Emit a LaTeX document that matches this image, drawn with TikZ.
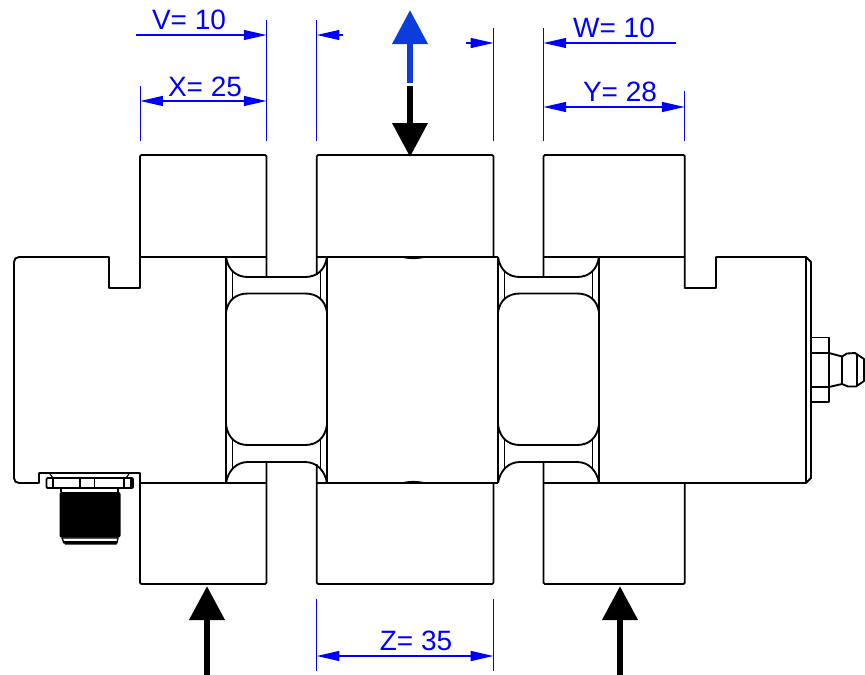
\documentclass[tikz,border=0pt]{standalone}
\usepackage{fontspec}
\setmainfont{Liberation Sans}
\usetikzlibrary{arrows.meta}
\definecolor{dimblue}{RGB}{0,0,255}
\definecolor{loadblue}{RGB}{12,60,220}
\tikzset{
  part/.style={draw=black,line width=1.4pt,line join=round},
  partthin/.style={draw=black,line width=0.85pt},
  extline/.style={draw=dimblue,line width=0.85pt},
  dimline/.style={draw=dimblue,line width=1pt},
  dimtip/.style={-{Triangle[length=17pt,width=7.5pt,fill=dimblue]}},
  dimtips/.style={{Triangle[length=17pt,width=7.5pt,fill=dimblue]}-{Triangle[length=17pt,width=7.5pt,fill=dimblue]}},
  dimtext/.style={text=dimblue,font=\fontsize{21pt}{21pt}\selectfont,inner sep=0pt,anchor=base},
  load/.style={line width=5.2pt,-{Triangle[length=25.5pt,width=25.5pt]}},
}
\begin{document}
\begin{tikzpicture}[x=0.75pt,y=-0.75pt]
\useasboundingbox (0,0) rectangle (865,675);
% top and bottom blocks
\draw[part,rounded corners=1pt] (140,257) -- (140,155) -- (266.5,155) -- (266.5,277);
\draw[part,rounded corners=1pt] (316.8,275) -- (316.8,155) -- (493.5,155) -- (493.5,257);
\draw[part,rounded corners=1pt] (543.5,277) -- (543.5,155) -- (684.8,155) -- (684.8,257);
\draw[part,rounded corners=1pt] (140,483) -- (140,584) -- (266.5,584) -- (266.5,462);
\draw[part,rounded corners=1pt] (316.8,464) -- (316.8,584) -- (493.5,584) -- (493.5,483);
\draw[part,rounded corners=1pt] (543.5,462) -- (543.5,584) -- (684.8,584) -- (684.8,483);
% left body outline
\draw[part] (266.5,257) -- (140,257) -- (140,288) -- (109,288) -- (109,257) -- (19,257)
  .. controls (16,257) and (14,259) .. (14,262) -- (14,478)
  .. controls (14,481) and (16,483) .. (19,483) -- (39,483) -- (39,473) -- (140,473) -- (140,483) -- (266.5,483);
% right body outline
\draw[part] (543.5,257) -- (684.8,257) -- (684.8,288) -- (716,288) -- (716,257) -- (806,257)
  -- (811,262) -- (811,478) -- (806,483) -- (543.5,483);
\draw[part] (806,257) -- (806,483);
% middle body
\draw[part] (316.8,257) -- (498,257);
\draw[part] (316.8,483) -- (498,483);
\draw[partthin] (402,257) .. controls (408,259) and (418,259) .. (425,257);
\draw[partthin] (402,483) .. controls (408,481) and (418,481) .. (425,483);
\draw[part] (226,257) -- (226,483);
\draw[part] (327,257) -- (327,483);
\draw[part] (498,257) -- (498,483);
\draw[part] (599,257) -- (599,483);
% flexures
\foreach \l/\r in {226/327,498/599}{
  \draw[part] (\l,257) .. controls (\l+2,270) and (\l+10,277) .. (\l+22,277) -- (\r-22,277) .. controls (\r-10,277) and (\r-2,270) .. (\r,257);
  \draw[part] (\l,312) .. controls (\l+2,300) and (\l+10,293.5) .. (\l+22,293.5) -- (\r-22,293.5) .. controls (\r-10,293.5) and (\r-2,300) .. (\r,312);
  \draw[part] (\l,425) .. controls (\l+2,438) and (\l+10,445) .. (\l+22,445) -- (\r-22,445) .. controls (\r-10,445) and (\r-2,438) .. (\r,425);
  \draw[part] (\l,483) .. controls (\l+2,471) and (\l+10,462) .. (\l+22,462) -- (\r-22,462) .. controls (\r-10,462) and (\r-2,471) .. (\r,483);
  \draw[partthin] (\l+6.5,270) -- (\l+6.5,300);
  \draw[partthin] (\r-6.5,270) -- (\r-6.5,300);
  \draw[partthin] (\l+6.5,438) -- (\l+6.5,470);
  \draw[partthin] (\r-6.5,438) -- (\r-6.5,470);
}
% connector, lower left
\draw[partthin] (50,474) -- (53,478);
\draw[partthin] (129,474) -- (126,478);
\draw[part,fill=white,rounded corners=0.8pt] (46.5,478) rectangle (133,488);
\foreach \x in {53,80,94.5,124,131}{\draw[part,line width=1.1pt] (\x,478) -- (\x,488);}
\draw[partthin] (61,488) -- (61,492);
\draw[partthin] (118,488) -- (118,492);
\fill[black,rounded corners=1.5pt] (59.5,492) rectangle (120.5,537.5);
\draw[part,line width=1pt,fill=white] (62,538) -- (118,538) -- (117,543) -- (64,543) -- cycle;
\fill[black] (64,541) -- (117,541) -- (116.5,544.5) -- (65,544.5) -- cycle;
% fitting, right
\draw[part] (811,337.5) -- (829,337.5) -- (829,402) -- (811,402);
\draw[part] (811,353) -- (829,353) -- (842,356.5) -- (842,384) -- (829,387) -- (811,387);
\draw[part] (842,356.5) -- (847,353.5) -- (855,353) -- (864,359) -- (864,381) -- (856,386.5) -- (848,386.5) -- (842,384);
\draw[part] (857,354) -- (857,386);
% extension lines
\draw[extline] (266.5,20) -- (266.5,141);
\draw[extline] (140.3,86) -- (140.3,141);
\draw[extline] (316.8,20) -- (316.8,141);
\draw[extline] (493.4,28) -- (493.4,141);
\draw[extline] (543.5,28) -- (543.5,141);
\draw[extline] (684.6,91) -- (684.6,141);
\draw[extline] (316.8,599) -- (316.8,671);
\draw[extline] (493.4,599) -- (493.4,671);
% dimension lines
\coordinate (vtail) at (136,35);
\coordinate (vend) at (266.5,35);
\coordinate (xa) at (140.3,101);
\coordinate (xb) at (266.5,101);
\coordinate (ma) at (343,35);
\coordinate (mb) at (316.8,35);
\coordinate (mc) at (466,43);
\coordinate (md) at (493.4,43);
\coordinate (wtail) at (676,43);
\coordinate (wend) at (543.5,43);
\coordinate (ya) at (543.5,107);
\coordinate (yb) at (684.6,107);
\coordinate (za) at (316.8,656);
\coordinate (zb) at (493.4,656);
\draw[dimline,line width=0.8pt,dimtip] (vtail) -- (vend);
\draw[dimline,dimtips] (xa) -- (xb);
\draw[dimline,line width=0.8pt,dimtip] (ma) -- (mb);
\draw[dimline,line width=0.8pt,dimtip] (mc) -- (md);
\draw[dimline,line width=0.8pt,dimtip] (wtail) -- (wend);
\draw[dimline,dimtips] (ya) -- (yb);
\draw[dimline,dimtips] (za) -- (zb);
\node[dimtext] (tv) at (189,29) {V= 10};
\node[dimtext] (tx) at (205,96) {X= 25};
\node[dimtext] (tw) at (614,37) {W= 10};
\node[dimtext] (ty) at (620,101) {Y= 28};
\node[dimtext] (tz) at (416,650) {Z= 35};
% load arrows
\coordinate (bluefrom) at (410,83);
\coordinate (bluetip) at (410,10);
\coordinate (blackfrom) at (410,86);
\coordinate (blacktip) at (410,157);
\coordinate (lfrom) at (207,675);
\coordinate (ltip) at (207,586);
\coordinate (rfrom) at (620,675);
\coordinate (rtip) at (620,586);
\draw[load,color=loadblue] (bluefrom) -- (bluetip);
\draw[load,color=black] (blackfrom) -- (blacktip);
\draw[load,color=black] (lfrom) -- (ltip);
\draw[load,color=black] (rfrom) -- (rtip);
\end{tikzpicture}
\end{document}
